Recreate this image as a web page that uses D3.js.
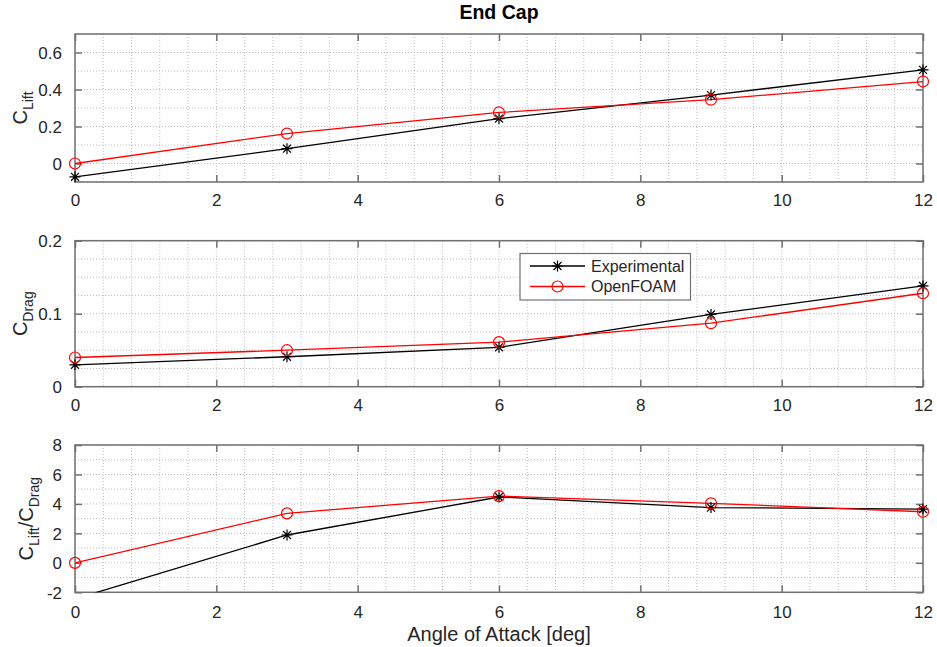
<!DOCTYPE html>
<html><head><meta charset="utf-8">
<script src="https://cdn.jsdelivr.net/npm/d3@7"></script>
<style>body{margin:0;background:#fff;} svg{display:block;font-family:"Liberation Sans",Arial,Helvetica,sans-serif;}</style>
</head><body>
<script>
const angles = [0, 3, 6, 9, 12];
const liftExp = [-0.072, 0.08, 0.243, 0.37, 0.506];
const liftCFD = [0.0, 0.162, 0.276, 0.345, 0.443];
const dragExp = [0.030, 0.041, 0.054, 0.099, 0.138];
const dragCFD = [0.040, 0.050, 0.061, 0.087, 0.128];
const ldExp = [-2.45, 1.89, 4.47, 3.75, 3.65];
const ldCFD = [0.0, 3.36, 4.53, 4.04, 3.47];
const xTicks = [0, 2, 4, 6, 8, 10, 12];
const liftTicks = [0, 0.2, 0.4, 0.6];
const dragTicks = [0, 0.1, 0.2];
const ldTicks = [-2, 0, 2, 4, 6, 8];
const seriesNames = ["Experimental", "OpenFOAM"];
const titleText = "End Cap";
const xLabelText = "Angle of Attack [deg]";

const W = 937, H = 647;
const svg = d3.select("body").append("svg").attr("width", W).attr("height", H);
const x = d3.scaleLinear().domain([0, 12]).range([75, 923]);
const textCol = "#262626", axCol = "#707070", gridCol = "#bcbcbc";

const panels = [
  {top: 34, bot: 182, dom: [-0.1, 0.7], ticks: liftTicks, minor: 0.1, exp: liftExp, cfd: liftCFD, fmt: d => d === 0 ? "0" : d3.format(".1f")(d), lab: [["C", ""], ["Lift", "sub"]], labX: 27, xlabY: 206},
  {top: 240.7, bot: 386.7, dom: [0, 0.2], ticks: dragTicks, minor: 0.025, exp: dragExp, cfd: dragCFD, fmt: d => d === 0 ? "0" : d3.format(".1f")(d), lab: [["C", ""], ["Drag", "sub"]], labX: 27, xlabY: 411, legend: true},
  {top: 445, bot: 592.3, dom: [-2, 8], ticks: ldTicks, minor: 1, exp: ldExp, cfd: ldCFD, fmt: d => String(d), lab: [["C", ""], ["Lift", "sub"], ["/C", ""], ["Drag", "sub"]], labX: 33, xlabY: 618}
];

function star(g, cx, cy, s) {
  const r = s, d = s * 0.72;
  const p = `M${cx-r},${cy}L${cx+r},${cy}M${cx},${cy-r}L${cx},${cy+r}M${cx-d},${cy-d}L${cx+d},${cy+d}M${cx-d},${cy+d}L${cx+d},${cy-d}`;
  g.append("path").attr("d", p).attr("stroke", "#000").attr("stroke-width", 1.2).attr("fill", "none");
}

panels.forEach((p, i) => {
  const y = d3.scaleLinear().domain(p.dom).range([p.bot, p.top]);
  const g = svg.append("g");
  const x0 = x.range()[0], x1 = x.range()[1];
  const xs = d3.range(0, 12.0001, 0.4);
  g.selectAll(null).data(xs).join("line")
    .attr("x1", d => x(d)).attr("x2", d => x(d)).attr("y1", p.top).attr("y2", p.bot)
    .attr("stroke", gridCol).attr("stroke-width", 1).attr("stroke-dasharray", "1,2");
  const n = Math.round((p.dom[1] - p.dom[0]) / p.minor);
  const ys = d3.range(0, n + 1).map(k => p.dom[0] + k * p.minor);
  g.selectAll(null).data(ys).join("line")
    .attr("x1", x0).attr("x2", x1).attr("y1", d => y(d)).attr("y2", d => y(d))
    .attr("stroke", gridCol).attr("stroke-width", 1).attr("stroke-dasharray", "1,2");

  const cid = "clip" + i;
  svg.append("clipPath").attr("id", cid).append("rect")
    .attr("x", x0).attr("y", p.top).attr("width", x1 - x0).attr("height", p.bot - p.top);

  g.append("rect").attr("x", x0).attr("y", p.top).attr("width", x1 - x0).attr("height", p.bot - p.top)
    .attr("fill", "none").attr("stroke", axCol).attr("stroke-width", 1.5);

  const axB = d3.axisBottom(x).tickValues(xTicks).tickSize(-7).tickPadding(12).tickFormat(d3.format("d"));
  const axT = d3.axisTop(x).tickValues(xTicks).tickSize(-7).tickFormat("");
  const axL = d3.axisLeft(y).tickValues(p.ticks).tickSize(-7).tickPadding(13).tickFormat(p.fmt);
  const axR = d3.axisRight(y).tickValues(p.ticks).tickSize(-7).tickFormat("");
  const styleAx = (sel) => {
    sel.select(".domain").remove();
    sel.selectAll(".tick line").attr("stroke", axCol).attr("stroke-width", 1.5);
    sel.selectAll(".tick text").attr("fill", textCol).style("font-size", "17px").style("font-family", "'Liberation Sans',Arial,sans-serif");
  };
  g.append("g").attr("transform", `translate(0,${p.bot})`).call(axB).call(styleAx)
    .selectAll(".tick text").attr("y", null).attr("dy", null).attr("transform", `translate(0,${p.xlabY - p.bot})`);
  g.append("g").attr("transform", `translate(0,${p.top})`).call(axT).call(styleAx);
  g.append("g").attr("transform", `translate(${x0},0)`).call(axL).call(styleAx)
    .selectAll(".tick text").attr("dy", "0.35em");
  g.append("g").attr("transform", `translate(${x1},0)`).call(axR).call(styleAx);

  const line = d3.line().x((d, k) => x(angles[k])).y(d => y(d));
  const dg = g.append("g").attr("clip-path", `url(#${cid})`);
  dg.append("path").datum(p.exp).attr("d", line).attr("fill", "none").attr("stroke", "#000").attr("stroke-width", 1.3);
  dg.append("path").datum(p.cfd).attr("d", line).attr("fill", "none").attr("stroke", "#ff0000").attr("stroke-width", 1.3);
  const inDom = v => v >= p.dom[0] && v <= p.dom[1];
  p.exp.forEach((v, k) => { if (inDom(v)) star(g, x(angles[k]), y(v), 5.5); });
  p.cfd.forEach((v, k) => {
    if (inDom(v)) g.append("circle").attr("cx", x(angles[k])).attr("cy", y(v)).attr("r", 5.5)
      .attr("fill", "none").attr("stroke", "#ff0000").attr("stroke-width", 1.2);
  });

  const cy = (p.top + p.bot) / 2;
  const t = svg.append("text").attr("transform", `translate(${p.labX},${cy}) rotate(-90)`)
    .attr("text-anchor", "middle").attr("fill", textCol).style("font-size", "20px");
  let state = "";
  p.lab.forEach(([s, kind]) => {
    const ts = t.append("tspan").text(s);
    if (kind === "sub") { ts.style("font-size", "14px").attr("dy", state === "sub" ? 0 : 6); state = "sub"; }
    else { ts.attr("dy", state === "sub" ? -6 : 0); state = ""; }
  });

  if (p.legend) {
    const lg = svg.append("g");
    lg.append("rect").attr("x", 520).attr("y", 253.5).attr("width", 170.5).attr("height", 46.5)
      .attr("fill", "#fff").attr("stroke", axCol).attr("stroke-width", 1.2);
    const rows = [266, 286.5];
    seriesNames.forEach((nm, k) => {
      lg.append("line").attr("x1", 530).attr("x2", 585).attr("y1", rows[k]).attr("y2", rows[k])
        .attr("stroke", k === 0 ? "#000" : "#ff0000").attr("stroke-width", 1.3);
      if (k === 0) star(lg, 557.5, rows[k], 5.5);
      else lg.append("circle").attr("cx", 557.5).attr("cy", rows[k]).attr("r", 5.5).attr("fill", "none").attr("stroke", "#ff0000").attr("stroke-width", 1.2);
      lg.append("text").attr("x", 591).attr("y", rows[k]).attr("dy", "0.35em").attr("fill", textCol)
        .style("font-size", "16px").text(nm);
    });
  }
});

svg.append("text").attr("x", 499).attr("y", 19).attr("text-anchor", "middle")
  .attr("fill", "#000").style("font-size", "19.5px").style("font-weight", "bold").text(titleText);
svg.append("text").attr("x", 499).attr("y", 641).attr("text-anchor", "middle")
  .attr("fill", textCol).style("font-size", "20px").text(xLabelText);
</script>
</body></html>
